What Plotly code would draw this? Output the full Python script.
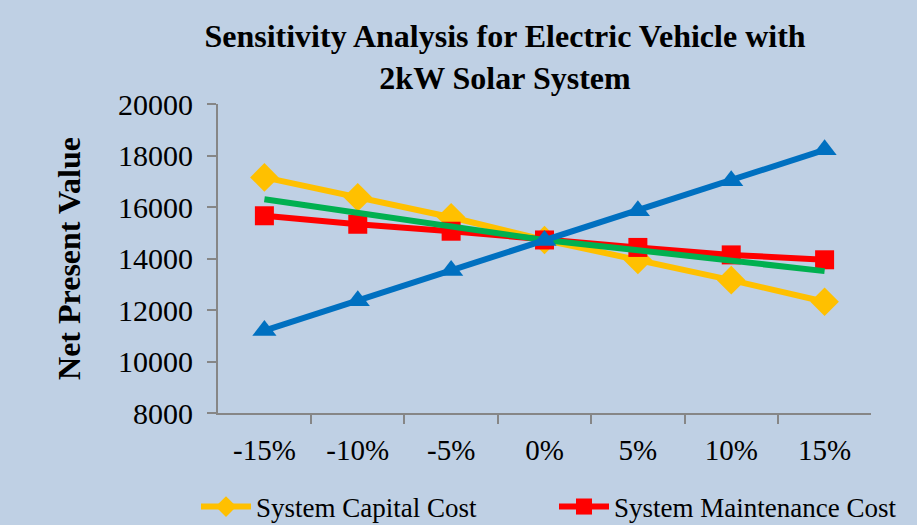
import plotly.graph_objects as go

categories = ["-15%", "-10%", "-5%", "0%", "5%", "10%", "15%"]
capital_cost = [17150, 16380, 15600, 14720, 13940, 13160, 12320]
maintenance_cost = [15660, 15330, 15060, 14720, 14430, 14140, 13950]
green_series = [16300, 15780, 15250, 14720, 14320, 13920, 13510]
blue_series = [11200, 12360, 13530, 14700, 15850, 17020, 18220]
y_ticks = [8000, 10000, 12000, 14000, 16000, 18000, 20000]

FONT = "Liberation Serif, Times New Roman, serif"

fig = go.Figure()
fig.add_trace(go.Scatter(
    x=categories, y=capital_cost, name="System Capital Cost",
    mode="lines+markers", legend="legend",
    line=dict(color="#ffc000", width=6),
    marker=dict(symbol="diamond", size=22, color="#ffc000"),
))
fig.add_trace(go.Scatter(
    x=categories, y=maintenance_cost, name="System Maintenance Cost",
    mode="lines+markers", legend="legend2",
    line=dict(color="#ff0000", width=6),
    marker=dict(symbol="square", size=19, color="#ff0000"),
))
fig.add_trace(go.Scatter(
    x=categories, y=green_series, name="Series 3",
    mode="lines", showlegend=False,
    line=dict(color="#00b050", width=6),
))
fig.add_trace(go.Scatter(
    x=categories, y=blue_series, name="Series 4",
    mode="lines+markers", showlegend=False,
    line=dict(color="#0070c0", width=6),
    marker=dict(symbol="triangle-up", size=21, color="#0070c0"),
))

legend_common = dict(
    orientation="h", xanchor="left",
    yref="container", y=(525-507)/525, yanchor="middle",
    font=dict(family=FONT, size=27),
    bgcolor="rgba(0,0,0,0)",
    itemwidth=50,
)

fig.update_layout(
    width=917, height=525,
    margin=dict(l=218, r=46, t=104, b=112),
    paper_bgcolor="#bfd0e4",
    plot_bgcolor="rgba(0,0,0,0)",
    font=dict(family=FONT, color="#000000"),
    title=dict(
        text="<b>Sensitivity Analysis for Electric Vehicle with<br>2kW Solar System</b>",
        x=505/917, xanchor="center", yref="container", y=1-47/525, yanchor="middle",
        font=dict(family=FONT, size=32, color="#000000"),
    ),
    xaxis=dict(
        type="category",
        showgrid=False, showline=True, linecolor="#868686", linewidth=2,
        ticks="outside", ticklen=9, tickcolor="#868686", tickwidth=2,
        tickson="boundaries",
        tickfont=dict(family=FONT, size=29),
        ticklabelstandoff=10,
        zeroline=False, automargin=False,
    ),
    yaxis=dict(
        range=[8000, 20000], tickvals=y_ticks, tickformat="d",
        showgrid=False, showline=True, linecolor="#868686", linewidth=2,
        ticks="outside", ticklen=9, tickcolor="#868686", tickwidth=2,
        tickfont=dict(family=FONT, size=30),
        ticklabelstandoff=8,
        zeroline=False, automargin=False,
        title=dict(text="<b>Net Present Value</b>", font=dict(family=FONT, size=32), standoff=28),
    ),
    legend=dict(xref="container", x=196/917, **legend_common),
    legend2=dict(xref="container", x=554/917, **legend_common),
    showlegend=True,
)

fig.write_html("out.html")
